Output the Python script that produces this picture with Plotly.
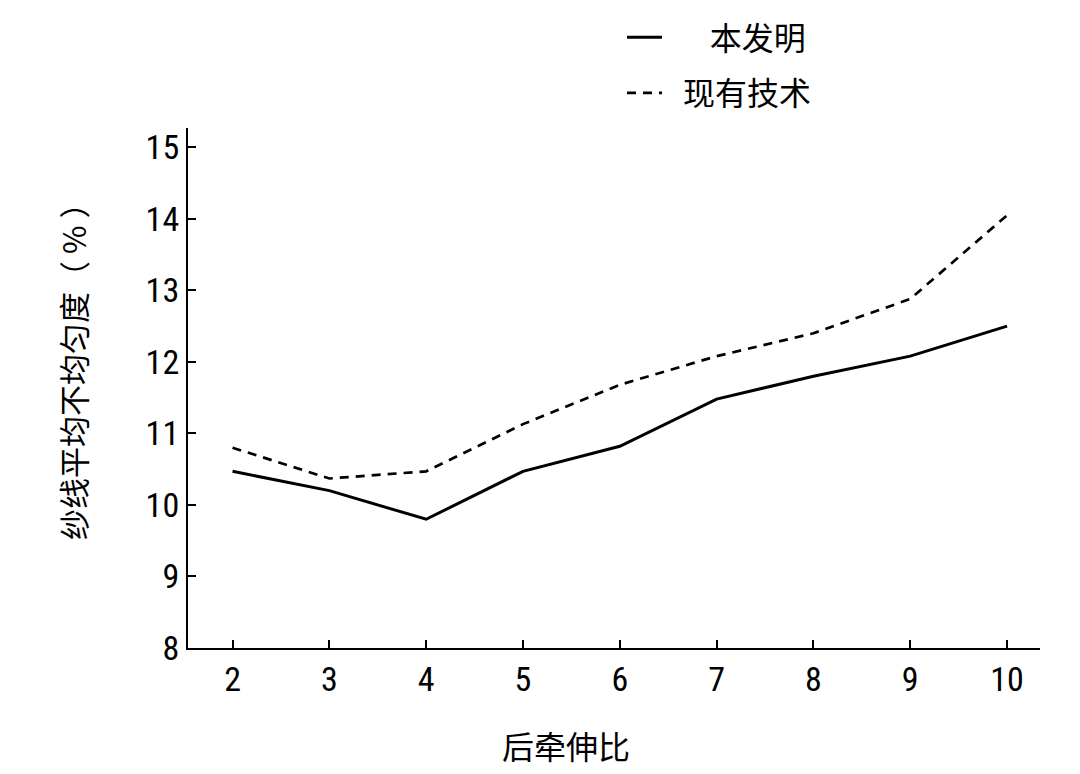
import plotly.graph_objects as go

x_ratio = [2, 3, 4, 5, 6, 7, 8, 9, 10]
invention = [10.47, 10.2, 9.8, 10.47, 10.82, 11.48, 11.8, 12.08, 12.5]
prior_art = [10.8, 10.37, 10.47, 11.13, 11.68, 12.08, 12.4, 12.88, 14.05]
y_ticks = [8, 9, 10, 11, 12, 13, 14, 15]
x_ticks = [2, 3, 4, 5, 6, 7, 8, 9, 10]
x_title = "后牵伸比"
y_title = "纱线平均不均匀度（ % ）"
legend_names = ["本发明", "现有技术"]

cjk = "Noto Sans CJK SC"
num_font = "Liberation Sans Narrow, Roboto Condensed, Liberation Sans, sans-serif"

# plot area in page pixels: left 188, right 1040, top 128, bottom 648 (page has 8px body margin)
plot_w = 852
plot_h = 520

fig = go.Figure()
fig.add_trace(go.Scatter(
    x=x_ratio, y=invention, mode="lines", name="\u3000\u2004" + legend_names[0],
    line=dict(color="black", width=3), legendgroup="a"))
fig.add_trace(go.Scatter(
    x=x_ratio, y=prior_art, mode="lines", name="\u2002" + legend_names[1],
    line=dict(color="black", width=2.7, dash="9px,7px"), legendgroup="b"))

fig.update_layout(
    width=1080, height=774,
    paper_bgcolor="white", plot_bgcolor="white",
    margin=dict(l=180, r=48, t=120, b=134, autoexpand=False),
    font=dict(family=cjk, color="black"),
    showlegend=True,
    legend=dict(
        xref="container", yref="container",
        x=614 / 1080, y=1 - 2 / 774, xanchor="left", yanchor="top",
        font=dict(family=cjk, size=32, color="black"),
        traceorder="grouped", tracegroupgap=11,
        bgcolor="rgba(0,0,0,0)", itemwidth=35,
    ),
    xaxis=dict(
        range=[1.54, 10.34], tickvals=x_ticks, ticktext=[str(v) for v in x_ticks],
        showgrid=False, zeroline=False, showline=True, linecolor="black", linewidth=2,
        ticks="inside", ticklen=8, tickwidth=2, tickcolor="black",
        tickfont=dict(family=num_font, size=34, color="black"),
    ),
    yaxis=dict(
        range=[8, 15.27], tickvals=y_ticks, ticktext=[str(v) for v in y_ticks],
        showgrid=False, zeroline=False, showline=True, linecolor="black", linewidth=2,
        ticks="inside", ticklen=8, tickwidth=2, tickcolor="black",
        tickfont=dict(family=num_font, size=34, color="black"),
    ),
    annotations=[
        dict(text=x_title, xref="paper", yref="paper",
             x=(566 - 188) / plot_w, y=-97 / plot_h, xanchor="center", yanchor="middle",
             showarrow=False, font=dict(family=cjk, size=32, color="black")),
        dict(text=y_title, xref="paper", yref="paper", textangle=-90,
             x=(72 - 188) / plot_w, y=(648 - 364) / plot_h, xanchor="center", yanchor="middle",
             showarrow=False, font=dict(family=cjk, size=31, color="black")),
    ],
)

fig.write_html("out.html")
